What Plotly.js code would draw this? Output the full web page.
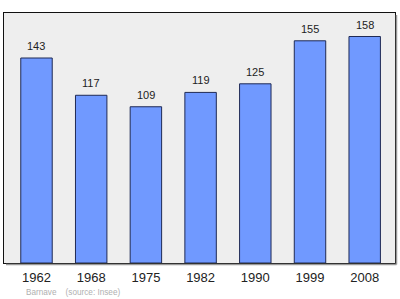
<!DOCTYPE html>
<html>
<head>
<meta charset="utf-8">
<script src="https://cdn.plot.ly/plotly-3.0.1.min.js"></script>
<style>html,body{margin:0;padding:0;background:#fff;}#chart{width:400px;height:299px;}</style>
</head>
<body>
<div id="chart"></div>
<script>
const years = ["1962", "1968", "1975", "1982", "1990", "1999", "2008"];
const population = [143, 117, 109, 119, 125, 155, 158];
const sourceText = "Barnave    (source: Insee)";

const W = 400, H = 299;
const margin = {l: 4, r: 5, t: 13, b: 36};
const pw = W - margin.l - margin.r, ph = H - margin.t - margin.b;
const FONT = "Liberation Sans, Arial, sans-serif";

const trace = {
  type: "bar",
  x: years,
  y: population,
  width: 0.575,
  marker: {color: "#7099ff", line: {color: "#1f2a55", width: 1}},
  hoverinfo: "none"
};

const annotations = years.map((yr, i) => ({
  x: i, y: population[i], xref: "x", yref: "y",
  text: String(population[i]), showarrow: false,
  yshift: 12, yanchor: "middle",
  font: {family: FONT, size: 11, color: "#222"}
}));
annotations.push({
  xref: "paper", yref: "paper", x: (24 - margin.l) / pw, y: -(292 - (H - margin.b)) / ph,
  xanchor: "left", yanchor: "middle", showarrow: false,
  text: sourceText.replace(/ /g, "&nbsp;"),
  font: {family: FONT, size: 8.2, color: "#b0b0b0"}
});

const layout = {
  width: W, height: H,
  margin: margin,
  paper_bgcolor: "#ffffff",
  plot_bgcolor: "#eeeeee",
  showlegend: false,
  xaxis: {
    type: "category",
    range: [-0.594, 6.554],
    showgrid: false, zeroline: false,
    showline: true, mirror: true, linecolor: "#111", linewidth: 1,
    ticks: "", ticklabelstandoff: 2,
    tickfont: {family: FONT, size: 13, color: "#222"},
    fixedrange: true
  },
  yaxis: {
    range: [0, 174.4],
    showgrid: false, zeroline: false,
    showline: true, mirror: true, linecolor: "#111", linewidth: 1,
    showticklabels: false, ticks: "",
    fixedrange: true
  },
  shapes: [
    {type: "line", xref: "paper", yref: "paper",
     x0: 1 + 1.5 / pw, x1: 1 + 1.5 / pw, y0: -1.5 / ph, y1: 1 - 2 / ph,
     line: {color: "#999", width: 1.5}},
    {type: "line", xref: "paper", yref: "paper",
     x0: 2 / pw, x1: 1 + 1.5 / pw, y0: -1.5 / ph, y1: -1.5 / ph,
     line: {color: "#999", width: 1.5}}
  ],
  annotations: annotations
};

Plotly.newPlot("chart", [trace], layout, {displayModeBar: false, staticPlot: true});
</script>
</body>
</html>
